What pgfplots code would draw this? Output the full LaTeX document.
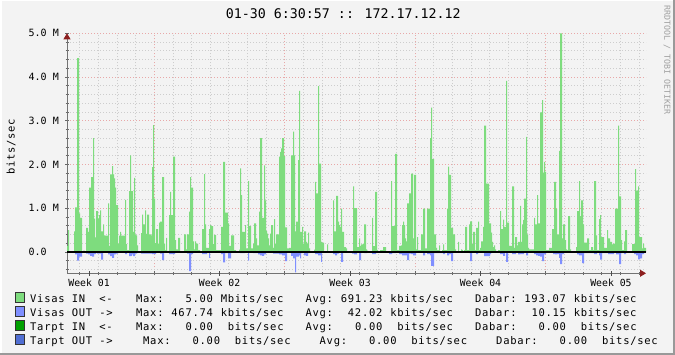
\documentclass[border=0pt]{standalone}
\usepackage{pgfplots}
\pgfplotsset{compat=1.18}
\usepackage{fontspec}
\setmainfont{DejaVu Sans Mono}
\setmonofont{DejaVu Sans Mono}
\newfontfamily\legfont[LetterSpace=7.0]{DejaVu Sans Mono}
\usetikzlibrary{arrows.meta}
\definecolor{bg}{RGB}{243,243,243}
\definecolor{inc}{RGB}{126,220,126}
\definecolor{outc}{RGB}{127,143,255}
\definecolor{tin}{RGB}{0,160,0}
\definecolor{tout}{RGB}{80,110,210}
\definecolor{mgrid}{RGB}{232,168,168}
\definecolor{sgrid}{RGB}{205,205,205}
\definecolor{arrowc}{RGB}{140,30,30}
\definecolor{wm}{RGB}{160,160,160}
\newcommand{\LF}{\legfont\fontsize{10.5}{12}\selectfont}
\begin{document}
\begin{tikzpicture}[x=1pt,y=1pt]
\fill[bg] (0,0) rectangle (675,355);
\draw[white, line width=1.5pt] (0.75,0) -- (0.75,354.25) -- (675,354.25);
\draw[black!40, line width=2pt] (0,1) -- (674,1) -- (674,355);
% title
\node[anchor=base west, inner sep=0pt, font=\fontsize{13.3}{14}\selectfont] at (225.7,336.7) {01-30 6:30:57 :: 172.17.12.12};
% y label
\node[rotate=90, inner sep=0pt, font=\LF] at (11,208) {bits/sec};
% watermark
\node[rotate=-90, inner sep=0pt, text=wm, font=\fontsize{8.3}{9}\selectfont] at (667,295) {RRDTOOL / TOBI OETIKER};
\begin{axis}[
  at={(67pt,81.7pt)}, anchor=south west,
  scale only axis, width=579pt, height=240pt,
  xmin=67, xmax=646, ymin=-0.49, ymax=5.0,
  axis x line=bottom, axis y line=left,
  axis line style={draw=black!55, line width=0.8pt, -{Triangle[length=6pt,width=7pt,color=arrowc]}},
  xtick={154.30,284.77,415.24,545.71}, xticklabels={},
  minor xtick={79.74,98.38,117.02,135.66,172.94,191.58,210.22,228.86,247.50,266.13,303.41,322.05,340.69,359.33,377.97,396.60,433.88,452.52,471.16,489.80,508.44,527.07,564.35,582.99,601.63,620.27,638.91},
  extra x ticks={89.06,219.53,350.00,480.47,610.95},
  extra x tick labels={Week 01,Week 02,Week 03,Week 04,Week 05},
  extra x tick style={grid=none, major tick length=5pt, tick style={black!70}},
  ytick={0,1,2,3,4,5},
  yticklabels={0.0\hphantom{MM},1.0 M,2.0 M,3.0 M,4.0 M,5.0 M},
  minor ytick={-0.4,-0.2,0.2,0.4,0.6,0.8,1.2,1.4,1.6,1.8,2.2,2.4,2.6,2.8,3.2,3.4,3.6,3.8,4.2,4.4,4.6,4.8},
  grid=both,
  major grid style={mgrid, line width=0.8pt, dash pattern=on 1pt off 2pt},
  minor grid style={sgrid, line width=0.8pt, dash pattern=on 1pt off 2pt},
  tick align=center, major tick length=4pt, minor tick length=3pt,
  tick style={black!60, line width=0.6pt},
  xticklabel style={font=\fontsize{9.8}{10}\selectfont, anchor=north, inner sep=0pt, yshift=-3pt},
  yticklabel style={font=\fontsize{10}{10}\selectfont, anchor=east, inner sep=0pt, xshift=-6pt},
]
% Visas IN
\addplot[const plot mark left, fill=inc, draw=none] coordinates {
(67,0)(67,0.14)(68,0.50)(69,0)(74,0.47)(75,1.02)(77,4.43)(79,0.88)(80,0.78)(82,0)(83,0.03)(85,0)
(86,0.55)(88,0.46)(89,1.47)(91,1.71)(93,2.60)(94,0.76)(95,0.33)(96,0.93)(98,0.76)(99,0.84)(100,0.95)
(101,0.47)(103,0.63)(104,0.38)(105,0.37)(108,1.11)(109,0.14)(110,1.77)(112,1.96)(113,1.77)(114,1.68)
(115,1.47)(116,1.07)(118,0.19)(119,0.37)(120,0.46)(121,0.37)(125,1.19)(126,0.18)(127,0.04)(129,1.39)
(130,2.21)(131,1.39)(133,0.46)(134,1.69)(135,0.40)(136,0.38)(137,0.15)(138,0)(141,0.43)(142,0.85)
(143,0.63)(145,0.95)(146,0.41)(147,0.85)(149,0.40)(151,0.38)(152,1.94)(153,2.90)(154,1.22)(155,0.20)
(156,0.52)(158,0.19)(159,0.67)(160,0.69)(162,1.71)(164,0.19)(165,0.04)(166,0.32)(167,0.02)(169,0.84)
(170,1.37)(171,0.84)(173,2.18)(175,0.27)(176,0.06)(178,0.32)(180,0)(184,0.40)(186,0.06)(187,0.40)
(189,0.92)(190,1.71)(191,1.47)(193,0.24)(194,0.06)(195,0.24)(196,0.19)(198,0.04)(200,0)(202,0.52)
(204,1.78)(205,0.63)(206,0.09)(209,0.52)(210,0.61)(211,0.59)(213,0.18)(214,0.39)(216,0.04)(221,0.57)
(223,2.06)(225,0.90)(228,0.65)(229,0.14)(231,0.38)(234,0.04)(236,0)(239,0.05)(240,1.91)(241,1.30)
(242,0.46)(245,0.61)(246,0.08)(248,1.62)(249,0.59)(251,0.08)(253,0.19)(254,0.65)(256,0.31)(257,0.15)
(259,0.92)(260,2.60)(262,0.78)(264,1.98)(265,1.18)(266,0.48)(267,0.42)(268,0.31)(269,0.15)(270,0.42)
(271,0.61)(273,0.09)(274,0.75)(275,0.19)(276,0.40)(279,2.18)(280,2.29)(281,2.37)(282,2.60)(284,2.19)
(285,0.56)(287,0.08)(289,0.09)(291,2.21)(293,2.75)(294,2.21)(295,0.47)(296,0.69)(298,2.10)(299,3.68)
(300,0.46)(302,0.57)(303,0.19)(304,0.47)(306,0.23)(307,0.19)(308,0.44)(309,0.08)(310,0)(314,0.05)
(315,1.60)(316,1.34)(318,3.79)(319,2.02)(321,0.23)(322,0.21)(324,0)(327,0.17)(328,0)(333,1.18)
(334,0.47)(336,1.28)(338,0.69)(339,0.61)(340,0.57)(341,0.99)(342,0.46)(344,0.11)(346,0.08)(347,0)
(353,1.50)(354,1.00)(357,0.11)(359,0.31)(360,0.14)(361,0.17)(363,0.19)(364,0.63)(366,0.06)(367,0.03)
(368,0)(372,0.78)(373,0.13)(375,1.37)(377,0.04)(378,0)(380,0.04)(383,0.11)(386,0)(391,1.62)(392,0.59)
(395,2.24)(397,0.04)(399,0.14)(401,0.15)(402,0.61)(403,0.69)(404,0.61)(405,0.31)(406,0.24)(407,1.11)
(409,1.34)(411,1.79)(413,0.31)(414,1.76)(416,0.06)(417,0.34)(418,0.04)(421,0.40)(423,0.99)(425,0.08)
(427,0.99)(430,2.60)(431,3.30)(432,2.12)(434,0.40)(436,0.09)(437,0.04)(439,0.15)(440,0)(442,0.04)
(443,0.17)(444,0.04)(447,0.99)(448,1.95)(449,1.76)(451,0.55)(453,0.40)(455,0.06)(456,0)(458,0.23)
(459,0)(461,0.06)(462,0.04)(463,0)(464,0.04)(465,0.57)(467,0.04)(469,0.63)(470,0.70)(472,0.18)
(473,0.46)(475,0.04)(476,0.55)(478,0.69)(479,0.04)(480,0.09)(481,0.24)(483,0.57)(484,2.89)(486,1.56)
(489,0.65)(491,0.44)(492,0.23)(493,0.11)(494,0.15)(495,0.06)(496,0)(498,0.04)(500,0.93)(501,0.52)
(503,0.74)(504,0.57)(506,3.91)(507,0.67)(509,0.14)(512,1.50)(514,0.09)(515,0.34)(517,0.15)(518,0.23)
(520,1.05)(521,0.23)(522,0.63)(523,0.73)(524,1.22)(526,2.63)(527,0.40)(528,0.09)(529,0.06)(534,0.78)
(535,0.63)(537,1.30)(538,0.65)(540,3.19)(542,3.47)(543,1.81)(544,2.06)(545,1.83)(546,0.04)(549,0.09)
(552,0.52)(554,1.60)(556,0.99)(557,0.40)(559,2.31)(560,5.00)(562,0.31)(563,0.63)(565,0.27)(566,0.06)
(567,0.04)(568,0.82)(570,0.06)(571,0)(576,0.11)(577,0.93)(579,1.62)(580,0.82)(581,1.18)(583,0.63)
(584,0.21)(587,0.31)(589,0.04)(591,0.11)(593,0.04)(594,1.62)(596,0.38)(597,0.04)(599,0.75)(600,0.84)
(601,0.34)(604,0.09)(607,0.50)(608,0.31)(610,0.23)(612,0.17)(613,0.19)(615,0.99)(618,2.89)(619,1.27)
(621,0.27)(622,0.04)(624,0.24)(625,0.50)(627,0)(632,0.18)(635,1.89)(636,1.40)(638,1.50)(639,0.34)
(642,0.08)(643,0.19)(644,0.09)(646,0)
};
% Visas OUT
\addplot[const plot mark left, fill=outc, draw=none] coordinates {
(67,0)(75,-0.06)(77,-0.20)(79,-0.11)(82,-0.01)(86,-0.04)(88,-0.06)(90,-0.09)(92,-0.11)(94,-0.05)
(96,-0.02)(97,-0.04)(101,-0.18)(103,-0.02)(108,-0.06)(110,-0.10)(112,-0.14)(114,-0.06)(116,-0.04)
(118,-0.01)(125,-0.05)(127,-0.01)(129,-0.10)(131,-0.09)(132,-0.06)(133,-0.10)(135,-0.04)(137,-0.01)
(141,-0.04)(152,-0.05)(156,-0.02)(160,-0.04)(162,-0.19)(164,-0.02)(169,-0.05)(175,-0.02)(180,0)
(187,-0.04)(189,-0.44)(191,-0.05)(193,-0.02)(202,-0.05)(207,-0.02)(209,-0.14)(210,-0.02)(221,-0.05)
(223,-0.24)(225,-0.03)(228,-0.15)(231,-0.02)(240,-0.03)(245,-0.01)(248,-0.20)(249,-0.02)(253,-0.03)
(256,-0.03)(258,-0.06)(260,-0.08)(262,-0.09)(264,-0.06)(266,-0.02)(273,-0.04)(279,-0.06)(282,-0.08)
(285,-0.21)(287,-0.02)(291,-0.09)(293,-0.15)(295,-0.468)(296,-0.11)(299,-0.08)(300,-0.15)(301,-0.03)
(304,-0.08)(306,-0.09)(308,-0.03)(310,0)(315,-0.05)(318,-0.08)(321,-0.23)(322,-0.02)(324,0)(333,-0.05)
(335,-0.08)(337,-0.04)(339,-0.02)(341,-0.23)(343,-0.02)(346,0)(352,-0.04)(354,-0.06)(357,-0.02)
(359,-0.19)(361,-0.02)(364,-0.03)(367,0)(372,-0.05)(376,-0.01)(389,-0.05)(392,-0.03)(396,-0.01)
(399,-0.05)(402,-0.08)(407,-0.19)(409,-0.04)(411,-0.05)(413,-0.08)(416,-0.02)(423,-0.08)(425,-0.01)
(427,-0.05)(430,-0.08)(431,-0.32)(434,-0.03)(443,-0.05)(445,-0.01)(447,-0.08)(449,-0.05)(451,-0.21)
(453,-0.02)(469,-0.03)(470,-0.21)(472,-0.01)(476,-0.05)(478,-0.01)(484,-0.10)(490,-0.05)(491,-0.01)
(500,-0.05)(503,-0.09)(505,-0.02)(506,-0.23)(508,-0.02)(512,-0.05)(516,-0.02)(518,-0.06)(520,-0.05)
(524,-0.02)(526,-0.08)(528,-0.01)(534,-0.05)(536,-0.08)(538,-0.09)(540,-0.11)(542,-0.21)(544,-0.06)
(546,-0.01)(553,-0.05)(555,-0.06)(557,-0.05)(559,-0.14)(560,-0.28)(562,-0.05)(564,-0.01)(577,-0.06)
(579,-0.08)(582,-0.26)(584,-0.03)(594,-0.05)(597,-0.01)(599,-0.08)(600,-0.18)(602,-0.03)(608,-0.05)
(614,-0.02)(616,-0.06)(619,-0.28)(621,-0.03)(624,-0.05)(626,-0.01)(634,-0.05)(636,-0.08)(638,-0.17)
(640,-0.15)(642,-0.05)(644,-0.02)(646,0)
};
% zero line
\addplot[black, line width=1.6pt] coordinates {(67,0)(646,0)};
\end{axis}
% legend
\foreach \r/\c in {0/inc,1/outc,2/tin,3/tout}{
  \filldraw[fill=\c, draw=black!80, line width=0.7pt] (15.5,{355-292.5-14.1*\r}) rectangle ++(8.5,-9.5);
}
\begin{scope}[every node/.style={inner sep=0pt, font=\LF, anchor=base west}]
% row 1
\node at (30,52.3) {Visas IN\ \ <-};
\node at (135.9,52.3) {Max:};
\node at (185.3,52.3) {5.00};
\node at (220.6,52.3) {Mbits/sec};
\node at (305.3,52.3) {Avg:};
\node at (340.6,52.3) {691.23};
\node at (390.1,52.3) {kbits/sec};
\node at (474.8,52.3) {Dabar:};
\node at (524.2,52.3) {193.07};
\node at (573.6,52.3) {kbits/sec};
% row 2
\node at (30,38.3) {Visas OUT ->};
\node at (135.9,38.3) {Max:};
\node at (171.2,38.3) {467.74};
\node at (220.6,38.3) {kbits/sec};
\node at (305.3,38.3) {Avg:};
\node at (347.7,38.3) {42.02};
\node at (390.1,38.3) {kbits/sec};
\node at (474.8,38.3) {Dabar:};
\node at (531.3,38.3) {10.15};
\node at (573.6,38.3) {kbits/sec};
% row 3
\node at (30,24.3) {Tarpt IN\ \ <-};
\node at (135.9,24.3) {Max:};
\node at (185.3,24.3) {0.00};
\node at (227.7,24.3) {bits/sec};
\node at (305.3,24.3) {Avg:};
\node at (354.8,24.3) {0.00};
\node at (397.1,24.3) {bits/sec};
\node at (474.8,24.3) {Dabar:};
\node at (538.3,24.3) {0.00};
\node at (580.7,24.3) {bits/sec};
% row 4
\node at (30,10) {Tarpt OUT ->};
\node at (143.0,10) {Max:};
\node at (192.4,10) {0.00};
\node at (234.7,10) {bits/sec};
\node at (319.5,10) {Avg:};
\node at (368.9,10) {0.00};
\node at (411.2,10) {bits/sec};
\node at (496.0,10) {Dabar:};
\node at (559.5,10) {0.00};
\node at (601.9,10) {bits/sec};
\end{scope}
\pgfresetboundingbox
\path[use as bounding box] (0,0) rectangle (675,355);
\end{tikzpicture}
\end{document}
